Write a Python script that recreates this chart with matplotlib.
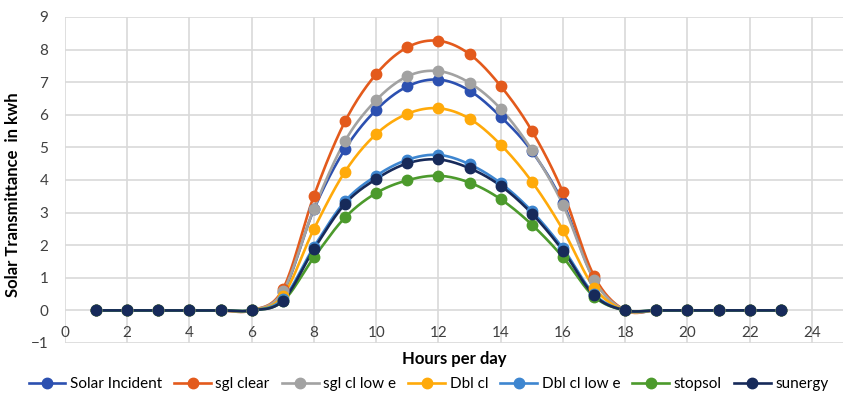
import numpy as np
import matplotlib.pyplot as plt

plt.rcParams['font.family'] = ['Lato', 'DejaVu Sans']

hours = list(range(1, 24))

solar_incident = [0, 0, 0, 0, 0, 0, 0.55, 3.1, 4.95, 6.15, 6.87, 7.08, 6.74, 5.94, 4.88, 3.3, 0.95, 0, 0, 0, 0, 0, 0]
sgl_clear = [0, 0, 0, 0, 0, 0, 0.65, 3.52, 5.8, 7.25, 8.07, 8.27, 7.86, 6.88, 5.51, 3.62, 1.05, 0, 0, 0, 0, 0, 0]
sgl_cl_low_e = [0, 0, 0, 0, 0, 0, 0.58, 3.12, 5.2, 6.45, 7.18, 7.34, 6.98, 6.18, 4.92, 3.24, 0.93, 0, 0, 0, 0, 0, 0]
dbl_cl = [0, 0, 0, 0, 0, 0, 0.45, 2.5, 4.26, 5.41, 6.03, 6.2, 5.88, 5.08, 3.95, 2.47, 0.7, 0, 0, 0, 0, 0, 0]
dbl_cl_low_e = [0, 0, 0, 0, 0, 0, 0.35, 1.95, 3.35, 4.13, 4.62, 4.77, 4.48, 3.9, 3.04, 1.9, 0.5, 0, 0, 0, 0, 0, 0]
stopsol = [0, 0, 0, 0, 0, 0, 0.28, 1.63, 2.85, 3.6, 3.99, 4.13, 3.92, 3.41, 2.63, 1.63, 0.42, 0, 0, 0, 0, 0, 0]
sunergy = [0, 0, 0, 0, 0, 0, 0.3, 1.88, 3.27, 4.03, 4.51, 4.63, 4.36, 3.82, 2.97, 1.83, 0.46, 0, 0, 0, 0, 0, 0]

series = [
    ("Solar Incident", solar_incident, "#2C50B0"),
    ("sgl clear", sgl_clear, "#E35A1C"),
    ("sgl cl low e", sgl_cl_low_e, "#A2A2A2"),
    ("Dbl cl", dbl_cl, "#FFAA0A"),
    ("Dbl cl low e", dbl_cl_low_e, "#3E86D0"),
    ("stopsol", stopsol, "#4C9A2C"),
    ("sunergy", sunergy, "#172A5A"),
]


def smooth(x, y, n=20):
    # Catmull-Rom curve through the points, like a spreadsheet "smoothed line"
    x = np.asarray(x, float)
    y = np.asarray(y, float)
    px = np.concatenate([[x[0]], x, [x[-1]]])
    py = np.concatenate([[y[0]], y, [y[-1]]])
    xs, ys = [], []
    t = np.linspace(0, 1, n, endpoint=False)
    for i in range(1, len(px) - 2):
        for arr, out in ((px, xs), (py, ys)):
            p0, p1, p2, p3 = arr[i - 1], arr[i], arr[i + 1], arr[i + 2]
            out.extend(0.5 * ((2 * p1) + (-p0 + p2) * t
                              + (2 * p0 - 5 * p1 + 4 * p2 - p3) * t ** 2
                              + (-p0 + 3 * p1 - 3 * p2 + p3) * t ** 3))
    xs.append(x[-1])
    ys.append(y[-1])
    return xs, ys


fig = plt.figure(figsize=(8.57, 3.99), dpi=100)
ax = fig.add_axes([0.0758, 0.1404, 0.908, 0.817])

for name, vals, col in series:
    sx, sy = smooth(hours, vals)
    ax.plot(sx, sy, color=col, lw=1.9, zorder=3)
    ax.plot(hours, vals, 'o', color=col, ms=7.5, zorder=4)
    ax.plot([], [], 'o-', color=col, lw=1.9, ms=7.5, label=name)

ax.set_xlim(0, 25)
ax.set_ylim(-1, 9)
ax.set_xticks(range(0, 25, 2))
ax.set_yticks(range(-1, 10))
ax.grid(True, color="#D9D9D9", lw=1.2)
ax.set_axisbelow(True)
for s in ["top", "right", "left"]:
    ax.spines[s].set_visible(False)
ax.spines["bottom"].set_position(("data", 0))
ax.spines["bottom"].set_visible(False)
ax.tick_params(axis="both", length=0, labelsize=11, colors="#404040")
ax.tick_params(axis="x", pad=11)
ax.tick_params(axis="y", pad=12)

ax.set_ylabel("Solar Transmittance  in kwh", fontsize=12, fontweight="bold")
ax.yaxis.set_label_coords(-0.057, 0.455)
fig.text(0.53, 0.1, "Hours per day", fontsize=12, fontweight="bold", ha="center", va="center")

fig.legend(loc="lower center", bbox_to_anchor=(0.5, -0.015), ncol=7, frameon=False,
           fontsize=11, handlelength=2.4, columnspacing=0.8, handletextpad=0.3)

plt.savefig("out.png", dpi=100)
